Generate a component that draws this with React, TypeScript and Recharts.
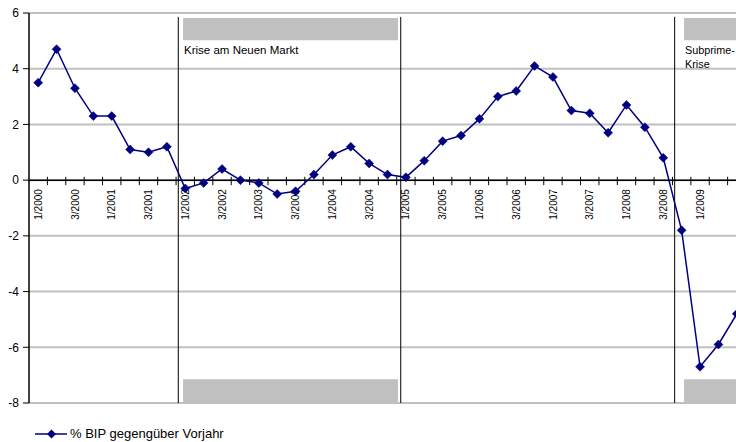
import React from 'react';
import { LineChart, Line, XAxis, YAxis, CartesianGrid, ReferenceLine, ReferenceArea, ReferenceDot } from 'recharts';

const quarters: string[] = [
  '1/2000','2/2000','3/2000','4/2000',
  '1/2001','2/2001','3/2001','4/2001',
  '1/2002','2/2002','3/2002','4/2002',
  '1/2003','2/2003','3/2003','4/2003',
  '1/2004','2/2004','3/2004','4/2004',
  '1/2005','2/2005','3/2005','4/2005',
  '1/2006','2/2006','3/2006','4/2006',
  '1/2007','2/2007','3/2007','4/2007',
  '1/2008','2/2008','3/2008','4/2008',
  '1/2009','2/2009','3/2009',
];

const bipValues: number[] = [
  3.5, 4.7, 3.3, 2.3,
  2.3, 1.1, 1.0, 1.2,
  -0.3, -0.1, 0.4, 0.0,
  -0.1, -0.5, -0.4, 0.2,
  0.9, 1.2, 0.6, 0.2,
  0.1, 0.7, 1.4, 1.6,
  2.2, 3.0, 3.2, 4.1,
  3.7, 2.5, 2.4, 1.7,
  2.7, 1.9, 0.8, -1.8,
  -6.7, -5.9, -4.8,
];

const yTicks: number[] = [-8, -6, -4, -2, 0, 2, 4, 6];
const labelIndices: number[] = quarters.map((_, i) => i).filter((i) => i % 2 === 0 && i < 38);
const tickPositions: number[] = quarters.map((_, i) => i + 0.5).filter((p) => p < 38);

const crisisLines: number[] = [7.62, 19.72, 34.62];
const crisisBands: { x1: number; x2: number; lines: string[]; size: number }[] = [
  { x1: 7.88, x2: 19.57, lines: ['Krise am Neuen Markt'], size: 11.5 },
  { x1: 35.13, x2: 38.5, lines: ['Subprime-', 'Krise'], size: 10.8 },
];

const data = quarters.map((q, i) => ({ i, q, v: bipValues[i] }));

const NAVY = '#000080';
const FONT = '"Liberation Sans", Arial, sans-serif';

const Diamond = (props: any) => {
  const { cx, cy } = props;
  if (cx == null || cy == null) return null;
  const s = 4.5;
  return <polygon points={`${cx},${cy - s} ${cx + s},${cy} ${cx},${cy + s} ${cx - s},${cy}`} fill={NAVY} stroke={NAVY} strokeWidth={0.5} />;
};

export default function App() {
  return (
    <div style={{ position: 'absolute', left: 0, top: 0, width: 736, height: 442, overflow: 'hidden', background: '#fff', fontFamily: FONT }}>
      <LineChart width={746} height={442} data={data} margin={{ top: 13, right: 0, bottom: 39, left: 0 }}>
        <CartesianGrid horizontal vertical={false} stroke="#c0c0c0" strokeWidth={2} />
        <XAxis dataKey="i" type="number" domain={[-0.5, 38.5]} hide allowDataOverflow />
        <YAxis
          type="number"
          domain={[-8, 6]}
          ticks={yTicks}
          interval={0}
          width={29}
          axisLine={{ stroke: '#000', strokeWidth: 1.5 }}
          tickLine={{ stroke: '#000' }}
          tickSize={6}
          tickMargin={4}
          tick={{ fill: '#000', fontSize: 12, fontFamily: FONT }}
          allowDataOverflow
        />
        {crisisBands.map((b, k) => (
          <ReferenceArea
            key={`top${k}`}
            x1={b.x1}
            x2={b.x2}
            y1={5.02}
            y2={5.82}
            fill="#c0c0c0"
            fillOpacity={1}
            stroke="none"
            label={(p: any) => {
              const vb = p.viewBox || {};
              return (
                <text x={vb.x + 1} y={vb.y + vb.height + 13.5} fontSize={b.size} fontFamily={FONT} fill="#000">
                  {b.lines.map((ln, j) => (
                    <tspan key={j} x={vb.x + 1} dy={j === 0 ? 0 : 14.5}>{ln}</tspan>
                  ))}
                </text>
              );
            }}
          />
        ))}
        {crisisBands.map((b, k) => (
          <ReferenceArea key={`bot${k}`} x1={b.x1} x2={b.x2} y1={-8} y2={-7.15} fill="#c0c0c0" fillOpacity={1} stroke="none" />
        ))}
        {crisisLines.map((x, k) => (
          <ReferenceLine key={`cl${k}`} segment={[{ x, y: -8 }, { x, y: 5.86 }]} stroke="#000" strokeWidth={1} />
        ))}
        <ReferenceLine y={0} stroke="#000" strokeWidth={1.5} />
        {tickPositions.map((x, k) => (
          <ReferenceLine key={`tk${k}`} segment={[{ x, y: 0.12 }, { x, y: -0.18 }]} stroke="#000" strokeWidth={1} />
        ))}
        {labelIndices.map((i) => (
          <ReferenceDot
            key={`lb${i}`}
            x={i}
            y={0}
            r={0.01}
            fill="none"
            stroke="none"
            label={(p: any) => {
              const vb = p.viewBox || {};
              const cx = vb.x + (vb.width || 0) / 2;
              const cy = vb.y + (vb.height || 0) / 2;
              return (
                <text
                  x={cx}
                  y={cy + 9}
                  dy="0.36em"
                  transform={`rotate(-90 ${cx} ${cy + 9})`}
                  textAnchor="end"
                  fontSize={10}
                  fontFamily={FONT}
                  fill="#000"
                >
                  {quarters[i]}
                </text>
              );
            }}
          />
        ))}
        <Line
          type="linear"
          dataKey="v"
          stroke={NAVY}
          strokeWidth={1.5}
          dot={<Diamond />}
          activeDot={false}
          isAnimationActive={false}
        />
      </LineChart>
      <div style={{ position: 'absolute', left: 35, top: 426, display: 'flex', alignItems: 'center', fontSize: 13, fontFamily: FONT, color: '#000', whiteSpace: 'nowrap' }}>
        <svg width={33} height={14} style={{ marginRight: 2 }}>
          <line x1={0} y1={7} x2={32} y2={7} stroke={NAVY} strokeWidth={1.5} />
          <polygon points="16.5,2.5 21,7 16.5,11.5 12,7" fill={NAVY} />
        </svg>
        <span>% BIP gegengüber Vorjahr</span>
      </div>
    </div>
  );
}
